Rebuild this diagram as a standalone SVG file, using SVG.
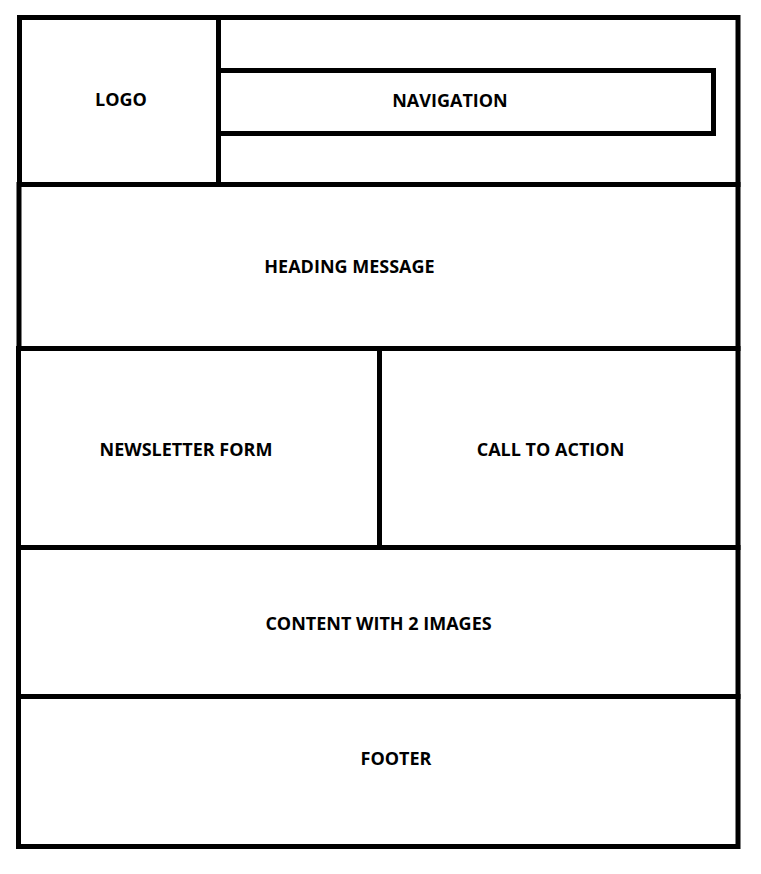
<svg xmlns="http://www.w3.org/2000/svg" width="761" height="874" viewBox="0 0 761 874">
<style>
.box{fill:none;stroke:#000;stroke-width:5}
.lbl{font-family:"Open Sans","Liberation Sans",sans-serif;font-weight:bold;font-size:18px;fill:#000;text-anchor:middle}
</style>
<rect width="761" height="874" fill="#fff"/>
<g id="header">
<rect class="box" x="19.5" y="17.5" width="718.5" height="167"/>
</g>
<g id="logo">
<rect class="box" x="19.5" y="17.5" width="199" height="167"/>
<text class="lbl" x="121" y="106">LOGO</text>
</g>
<g id="navigation">
<rect class="box" x="218.5" y="70.5" width="495" height="63"/>
<text class="lbl" x="450" y="106.5">NAVIGATION</text>
</g>
<g id="heading">
<rect class="box" x="19" y="184.5" width="719" height="164"/>
<text class="lbl" x="349.5" y="273">HEADING MESSAGE</text>
</g>
<g id="newsletter">
<rect class="box" x="18.5" y="348.5" width="361" height="199"/>
<text class="lbl" x="186" y="456">NEWSLETTER FORM</text>
</g>
<g id="cta">
<rect class="box" x="379.5" y="348.5" width="358.5" height="199"/>
<text class="lbl" x="550.5" y="456">CALL TO ACTION</text>
</g>
<g id="content">
<rect class="box" x="18.5" y="547.5" width="719.5" height="149"/>
<text class="lbl" x="378.5" y="630">CONTENT WITH 2 IMAGES</text>
</g>
<g id="footer">
<rect class="box" x="18.5" y="696.5" width="719.5" height="150"/>
<text class="lbl" x="396" y="765">FOOTER</text>
</g>
<g id="connectors"/>
</svg>
